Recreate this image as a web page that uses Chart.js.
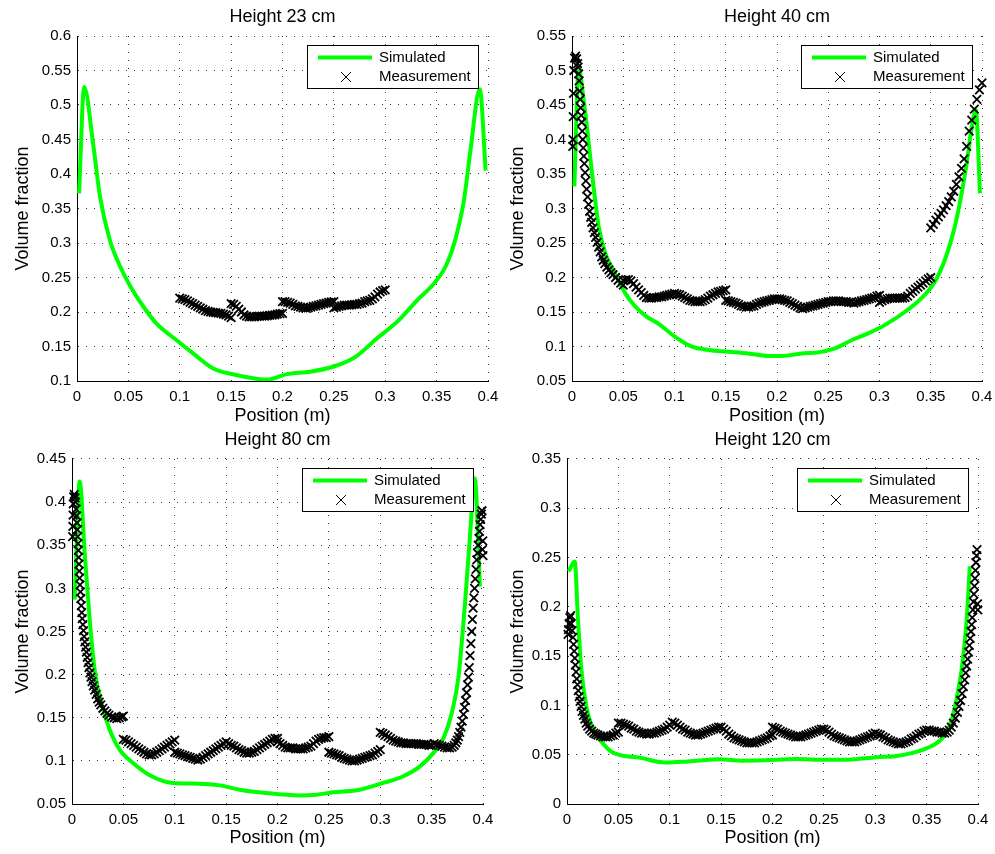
<!DOCTYPE html>
<html>
<head>
<meta charset="utf-8">
<script src="https://cdn.jsdelivr.net/npm/chart.js@4.4.1/dist/chart.umd.min.js"></script>
<style>
  body { margin: 0; background: #fff; width: 995px; height: 854px; position: relative; overflow: hidden; }
  canvas { position: absolute; }
</style>
</head>
<body>
<canvas id="c23" width="500" height="428" style="left:0;top:0"></canvas>
<canvas id="c40" width="500" height="428" style="left:495px;top:0"></canvas>
<canvas id="c80" width="500" height="426" style="left:0;top:428px"></canvas>
<canvas id="c120" width="500" height="426" style="left:495px;top:428px"></canvas>
<script>
"use strict";

const titles = ["Height 23 cm", "Height 40 cm", "Height 80 cm", "Height 120 cm"];
const seriesNames = ["Simulated", "Measurement"];
const xTicks = [0, 0.05, 0.1, 0.15, 0.2, 0.25, 0.3, 0.35, 0.4];
const yMins = [0.1, 0.05, 0.05, 0];
const yMaxs = [0.6, 0.55, 0.45, 0.35];

// simulated profiles [position, volume fraction]
const sim23 = [[0.002,0.372],[0.007,0.526],[0.016,0.44],[0.0224,0.367],[0.032,0.304],[0.042,0.266],[0.052,0.237],[0.0645,0.208],[0.0775,0.183],[0.097,0.159],[0.113,0.140],[0.1327,0.118],[0.155,0.1087],[0.178,0.1025],[0.185,0.102],[0.2045,0.110],[0.227,0.1135],[0.25,0.121],[0.271,0.135],[0.292,0.162],[0.3117,0.186],[0.331,0.217],[0.349,0.244],[0.360,0.270],[0.368,0.304],[0.3766,0.362],[0.383,0.435],[0.392,0.523],[0.3977,0.405]];
const sim40 = [[0.0023,0.332],[0.0065,0.503],[0.0114,0.457],[0.016,0.399],[0.021,0.332],[0.026,0.274],[0.0325,0.235],[0.042,0.206],[0.052,0.177],[0.0617,0.158],[0.073,0.143],[0.0844,0.133],[0.1006,0.114],[0.117,0.0997],[0.133,0.095],[0.1526,0.0925],[0.172,0.090],[0.1916,0.0862],[0.2045,0.0862],[0.224,0.090],[0.240,0.0915],[0.2565,0.0973],[0.2727,0.109],[0.289,0.119],[0.305,0.131],[0.3247,0.150],[0.341,0.170],[0.354,0.194],[0.3636,0.225],[0.3718,0.264],[0.378,0.305],[0.3847,0.362],[0.390,0.418],[0.394,0.443],[0.398,0.322]];
const sim80 = [[0.0026,0.287],[0.0075,0.424],[0.0123,0.341],[0.0172,0.264],[0.022,0.206],[0.0286,0.167],[0.0367,0.136],[0.0464,0.113],[0.0594,0.0975],[0.0756,0.0834],[0.0984,0.0744],[0.124,0.0736],[0.1438,0.0716],[0.1633,0.0666],[0.189,0.0627],[0.2218,0.060],[0.238,0.0608],[0.254,0.0635],[0.280,0.0666],[0.303,0.0744],[0.3224,0.0822],[0.3386,0.0936],[0.3516,0.109],[0.3614,0.126],[0.3695,0.155],[0.376,0.196],[0.3825,0.283],[0.3873,0.36],[0.392,0.4276],[0.397,0.302]];
const sim120 = [[0.0016,0.236],[0.0075,0.246],[0.0107,0.187],[0.014,0.136],[0.0188,0.099],[0.0237,0.080],[0.030,0.068],[0.0353,0.061],[0.042,0.054],[0.050,0.050],[0.0743,0.0463],[0.0854,0.0435],[0.097,0.042],[0.118,0.0432],[0.149,0.0453],[0.170,0.044],[0.2008,0.0446],[0.2218,0.0456],[0.2527,0.0448],[0.2737,0.045],[0.3014,0.0475],[0.319,0.0485],[0.334,0.0514],[0.35,0.0565],[0.3662,0.068],[0.3744,0.0852],[0.3808,0.1157],[0.384,0.136],[0.389,0.187],[0.392,0.241]];

// measurements [position, volume fraction]
const meas23 = [[0.100,0.220],[0.1025,0.219],[0.105,0.218],[0.1075,0.216],[0.110,0.214],[0.1125,0.212],[0.115,0.210],[0.1175,0.208],[0.120,0.206],[0.1225,0.204],[0.125,0.202],[0.1275,0.201],[0.130,0.200],[0.1325,0.1995],[0.135,0.199],[0.1375,0.1985],[0.140,0.198],[0.1425,0.197],[0.145,0.196],[0.1475,0.194],[0.150,0.192],
  [0.150,0.212],[0.1525,0.211],[0.155,0.208],[0.1575,0.204],[0.160,0.200],[0.1625,0.196],[0.165,0.194],[0.1675,0.193],[0.170,0.193],[0.1725,0.193],[0.175,0.1935],[0.1775,0.194],[0.180,0.194],[0.1825,0.194],[0.185,0.1945],[0.1875,0.195],[0.190,0.1955],[0.1925,0.196],[0.195,0.197],[0.1975,0.1975],[0.200,0.198],
  [0.200,0.215],[0.2025,0.215],[0.205,0.214],[0.2075,0.213],[0.210,0.211],[0.2125,0.209],[0.215,0.208],[0.2175,0.207],[0.220,0.206],[0.2225,0.2055],[0.225,0.206],[0.2275,0.207],[0.230,0.208],[0.2325,0.209],[0.235,0.210],[0.2375,0.211],[0.240,0.212],[0.2425,0.213],[0.245,0.214],[0.2475,0.2145],[0.250,0.215],
  [0.250,0.206],[0.2525,0.207],[0.255,0.208],[0.2575,0.209],[0.260,0.210],[0.2625,0.210],[0.265,0.210],[0.2675,0.2105],[0.270,0.211],[0.2725,0.211],[0.275,0.212],[0.2775,0.213],[0.280,0.215],[0.2825,0.216],[0.285,0.217],[0.2875,0.219],[0.290,0.222],[0.2925,0.226],[0.295,0.229],[0.2975,0.231],[0.300,0.232]];

const meas40 = [[0.0008,0.390],[0.0010,0.400],[0.0012,0.433],[0.0014,0.467],[0.0018,0.500],[0.0025,0.518],[0.0035,0.521],[0.0045,0.517],[0.0055,0.510],
  [0.0060,0.505],[0.0065,0.495],[0.0070,0.485],[0.0075,0.470],[0.0080,0.458],[0.0085,0.446],[0.0090,0.435],[0.0095,0.425],[0.0100,0.412],[0.0105,0.400],[0.0110,0.388],[0.0115,0.376],[0.0120,0.365],[0.0128,0.352],[0.0135,0.340],[0.0143,0.328],[0.0152,0.317],[0.0162,0.306],[0.0172,0.296],[0.0182,0.287],[0.0192,0.280],[0.0205,0.272],[0.0218,0.265],[0.0230,0.258],[0.0245,0.251],[0.0260,0.244],[0.0275,0.237],[0.0290,0.230],[0.0305,0.225],[0.0320,0.220],[0.0340,0.215],[0.0360,0.211],[0.0380,0.207],[0.0400,0.204],[0.0425,0.200],[0.0450,0.196],[0.0475,0.192],[0.0500,0.189],
  [0.050,0.196],[0.0525,0.197],[0.055,0.197],[0.0575,0.195],[0.060,0.191],[0.0625,0.186],[0.065,0.182],[0.0675,0.178],[0.070,0.174],[0.0725,0.171],[0.075,0.170],[0.0775,0.170],[0.080,0.171],[0.0825,0.171],[0.085,0.172],[0.0875,0.172],[0.090,0.173],[0.0925,0.174],[0.095,0.175],[0.0975,0.176],[0.100,0.177],
  [0.1025,0.176],[0.105,0.175],[0.1075,0.173],[0.110,0.171],[0.1125,0.169],[0.115,0.167],[0.1175,0.166],[0.120,0.165],[0.1225,0.165],[0.125,0.165],[0.1275,0.166],[0.130,0.168],[0.1325,0.170],[0.135,0.173],[0.1375,0.175],[0.140,0.177],[0.1425,0.179],[0.145,0.180],[0.1475,0.181],[0.150,0.182],
  [0.150,0.167],[0.1525,0.166],[0.155,0.165],[0.1575,0.164],[0.160,0.163],[0.1625,0.161],[0.165,0.159],[0.1675,0.158],[0.170,0.157],[0.1725,0.157],[0.175,0.158],[0.1775,0.159],[0.180,0.161],[0.1825,0.163],[0.185,0.164],[0.1875,0.165],[0.190,0.166],[0.1925,0.167],[0.195,0.168],[0.1975,0.169],[0.200,0.169],
  [0.2025,0.169],[0.205,0.168],[0.2075,0.167],[0.210,0.166],[0.2125,0.164],[0.215,0.162],[0.2175,0.160],[0.220,0.158],[0.2225,0.156],[0.225,0.155],[0.2275,0.156],[0.230,0.157],[0.2325,0.158],[0.235,0.159],[0.2375,0.160],[0.240,0.161],[0.2425,0.162],[0.245,0.163],[0.2475,0.164],[0.250,0.165],
  [0.2525,0.165],[0.255,0.166],[0.2575,0.166],[0.260,0.166],[0.2625,0.165],[0.265,0.165],[0.2675,0.165],[0.270,0.164],[0.2725,0.164],[0.275,0.163],[0.2775,0.164],[0.280,0.165],[0.2825,0.166],[0.285,0.167],[0.2875,0.168],[0.290,0.169],[0.2925,0.170],[0.295,0.171],[0.2975,0.173],[0.300,0.174],
  [0.300,0.164],[0.3025,0.166],[0.305,0.168],[0.3075,0.169],[0.310,0.170],[0.3125,0.170],[0.315,0.170],[0.3175,0.170],[0.320,0.170],[0.3225,0.170],[0.325,0.171],[0.3275,0.173],[0.330,0.177],[0.3325,0.180],[0.335,0.183],[0.3375,0.186],[0.340,0.189],[0.3425,0.192],[0.345,0.195],[0.3475,0.198],[0.350,0.200],
  [0.350,0.272],[0.3525,0.277],[0.355,0.283],[0.3575,0.288],[0.360,0.293],[0.3625,0.298],[0.365,0.304],[0.3675,0.310],[0.370,0.317],[0.3725,0.325],[0.375,0.335],[0.3775,0.346],[0.380,0.358],[0.3825,0.372],[0.385,0.390],[0.3875,0.412],[0.390,0.428],[0.3925,0.444],[0.395,0.458],[0.3975,0.472],[0.400,0.482]];

const meas80 = [[0.0006,0.360],[0.0008,0.372],[0.0010,0.385],[0.0012,0.398],[0.0016,0.406],[0.0022,0.409],[0.0030,0.405],
  [0.0035,0.400],[0.0040,0.392],[0.0045,0.384],[0.0050,0.376],[0.0053,0.368],[0.0056,0.360],[0.0059,0.352],[0.0062,0.344],[0.0065,0.336],[0.0068,0.328],[0.0071,0.320],[0.0074,0.312],[0.0078,0.304],[0.0082,0.296],[0.0086,0.288],[0.0090,0.280],[0.0095,0.272],[0.0100,0.265],[0.0106,0.258],[0.0112,0.251],[0.0118,0.244],[0.0125,0.238],[0.0132,0.232],[0.0140,0.226],[0.0148,0.220],[0.0156,0.214],[0.0165,0.208],[0.0175,0.202],[0.0185,0.197],[0.0195,0.192],[0.0207,0.187],[0.0220,0.182],[0.0235,0.177],[0.0250,0.172],[0.0265,0.168],[0.0280,0.165],[0.0300,0.161],[0.0320,0.158],[0.0340,0.155],[0.0360,0.153],[0.0385,0.151],[0.0410,0.150],[0.0435,0.149],[0.0460,0.150],[0.0485,0.151],[0.0500,0.152],
  [0.0500,0.125],[0.0525,0.124],[0.055,0.122],[0.0575,0.120],[0.060,0.118],[0.0625,0.116],[0.065,0.114],[0.0675,0.112],[0.070,0.110],[0.0725,0.108],[0.075,0.107],[0.0775,0.107],[0.080,0.108],[0.0825,0.110],[0.085,0.112],[0.0875,0.114],[0.090,0.116],[0.0925,0.118],[0.095,0.120],[0.0975,0.122],[0.100,0.124],
  [0.100,0.110],[0.1025,0.109],[0.105,0.108],[0.1075,0.107],[0.110,0.106],[0.1125,0.105],[0.115,0.104],[0.1175,0.103],[0.120,0.102],[0.1225,0.101],[0.125,0.102],[0.1275,0.104],[0.130,0.106],[0.1325,0.108],[0.135,0.110],[0.1375,0.112],[0.140,0.114],[0.1425,0.116],[0.145,0.118],[0.1475,0.120],[0.150,0.122],
  [0.1525,0.120],[0.155,0.118],[0.1575,0.117],[0.160,0.115],[0.1625,0.113],[0.165,0.112],[0.1675,0.110],[0.170,0.109],[0.1725,0.109],[0.175,0.110],[0.1775,0.111],[0.180,0.113],[0.1825,0.115],[0.185,0.117],[0.1875,0.119],[0.190,0.121],[0.1925,0.123],[0.195,0.125],[0.1975,0.126],[0.200,0.126],
  [0.200,0.122],[0.2025,0.120],[0.205,0.118],[0.2075,0.116],[0.210,0.115],[0.2125,0.115],[0.215,0.115],[0.2175,0.114],[0.220,0.114],[0.2225,0.114],[0.225,0.114],[0.2275,0.115],[0.230,0.116],[0.2325,0.117],[0.235,0.120],[0.2375,0.123],[0.240,0.125],[0.2425,0.126],[0.245,0.127],[0.2475,0.127],[0.250,0.128],
  [0.250,0.110],[0.2525,0.109],[0.255,0.108],[0.2575,0.107],[0.260,0.106],[0.2625,0.104],[0.265,0.103],[0.2675,0.102],[0.270,0.101],[0.2725,0.100],[0.275,0.100],[0.2775,0.101],[0.280,0.102],[0.2825,0.103],[0.285,0.104],[0.2875,0.105],[0.290,0.106],[0.2925,0.107],[0.295,0.109],[0.2975,0.111],[0.300,0.113],
  [0.300,0.133],[0.3025,0.132],[0.305,0.130],[0.3075,0.128],[0.310,0.126],[0.3125,0.124],[0.315,0.123],[0.3175,0.122],[0.320,0.121],[0.3225,0.121],[0.325,0.120],[0.3275,0.120],[0.330,0.120],[0.3325,0.120],[0.335,0.120],[0.3375,0.119],[0.340,0.119],[0.3425,0.119],[0.345,0.119],[0.3475,0.118],[0.350,0.118],
  [0.3525,0.120],[0.355,0.119],[0.3575,0.118],[0.360,0.117],[0.3625,0.116],[0.365,0.115],[0.3675,0.115],[0.370,0.116],[0.3720,0.118],[0.3735,0.121],[0.3750,0.124],[0.3762,0.128],[0.3774,0.133],[0.3786,0.139],[0.3798,0.146],[0.3810,0.154],[0.3820,0.162],[0.3830,0.170],[0.3840,0.179],[0.3850,0.188],[0.3858,0.197],[0.3866,0.208],[0.3874,0.222],[0.3882,0.236],[0.3890,0.250],[0.3897,0.264],[0.3904,0.277],[0.3911,0.289],[0.3918,0.300],[0.3925,0.311],[0.3932,0.322],[0.3939,0.333],[0.3946,0.341],[0.3953,0.350],[0.3960,0.358],[0.3966,0.366],[0.3972,0.374],[0.3978,0.380],[0.3984,0.386],[0.3990,0.390],[0.3995,0.345],[0.3998,0.355],[0.4000,0.338]];

const meas120 = [[0.0010,0.172],[0.0014,0.177],[0.0020,0.183],[0.0028,0.189],[0.0035,0.191],[0.0042,0.183],
  [0.0050,0.176],[0.0058,0.169],[0.0064,0.162],[0.0070,0.155],[0.0076,0.148],[0.0082,0.141],[0.0088,0.134],[0.0095,0.127],[0.0102,0.121],[0.0110,0.115],[0.0118,0.109],[0.0127,0.104],[0.0137,0.099],[0.0148,0.094],[0.0160,0.090],[0.0173,0.086],[0.0187,0.082],[0.0202,0.079],[0.0220,0.076],[0.0240,0.074],[0.0260,0.072],[0.0280,0.071],[0.0300,0.070],[0.0325,0.069],[0.0350,0.068],[0.0375,0.068],[0.0400,0.068],[0.0425,0.069],[0.0450,0.070],[0.0475,0.072],[0.0500,0.073],
  [0.050,0.082],[0.0525,0.082],[0.055,0.081],[0.0575,0.080],[0.060,0.079],[0.0625,0.077],[0.065,0.076],[0.0675,0.074],[0.070,0.073],[0.0725,0.072],[0.075,0.072],[0.0775,0.071],[0.080,0.071],[0.0825,0.072],[0.085,0.072],[0.0875,0.073],[0.090,0.074],[0.0925,0.075],[0.095,0.076],[0.0975,0.078],[0.100,0.080],[0.1025,0.083],
  [0.105,0.082],[0.1075,0.080],[0.110,0.078],[0.1125,0.076],[0.115,0.075],[0.1175,0.073],[0.120,0.072],[0.1225,0.071],[0.125,0.070],[0.1275,0.070],[0.130,0.071],[0.1325,0.072],[0.135,0.073],[0.1375,0.074],[0.140,0.075],[0.1425,0.076],[0.145,0.077],[0.1475,0.078],[0.150,0.078],
  [0.1525,0.076],[0.155,0.074],[0.1575,0.071],[0.160,0.069],[0.1625,0.067],[0.165,0.066],[0.1675,0.065],[0.170,0.064],[0.1725,0.063],[0.175,0.062],[0.1775,0.062],[0.180,0.062],[0.1825,0.062],[0.185,0.063],[0.1875,0.064],[0.190,0.065],[0.1925,0.066],[0.195,0.067],[0.1975,0.069],[0.200,0.070],
  [0.200,0.078],[0.2025,0.077],[0.205,0.076],[0.2075,0.074],[0.210,0.073],[0.2125,0.072],[0.215,0.071],[0.2175,0.070],[0.220,0.069],[0.2225,0.068],[0.225,0.068],[0.2275,0.068],[0.230,0.069],[0.2325,0.070],[0.235,0.071],[0.2375,0.072],[0.240,0.073],[0.2425,0.074],[0.245,0.075],[0.2475,0.076],[0.250,0.076],
  [0.2525,0.075],[0.255,0.073],[0.2575,0.071],[0.260,0.069],[0.2625,0.068],[0.265,0.067],[0.2675,0.066],[0.270,0.065],[0.2725,0.064],[0.275,0.063],[0.2775,0.063],[0.280,0.063],[0.2825,0.064],[0.285,0.065],[0.2875,0.066],[0.290,0.067],[0.2925,0.068],[0.295,0.069],[0.2975,0.071],[0.300,0.072],
  [0.3025,0.071],[0.305,0.070],[0.3075,0.068],[0.310,0.067],[0.3125,0.065],[0.315,0.064],[0.3175,0.063],[0.320,0.062],[0.3225,0.061],[0.325,0.061],[0.3275,0.062],[0.330,0.063],[0.3325,0.064],[0.335,0.066],[0.3375,0.067],[0.340,0.069],[0.3425,0.071],[0.345,0.072],[0.3475,0.074],[0.350,0.075],
  [0.3525,0.075],[0.355,0.074],[0.3575,0.074],[0.360,0.073],[0.3625,0.073],[0.365,0.072],[0.3675,0.072],[0.370,0.073],[0.3720,0.075],[0.3740,0.078],[0.3760,0.082],[0.3780,0.087],[0.3800,0.093],[0.3815,0.099],[0.3830,0.105],[0.3845,0.112],[0.3858,0.119],[0.3870,0.126],[0.3880,0.133],[0.3890,0.140],[0.3900,0.147],[0.3908,0.154],[0.3916,0.161],[0.3924,0.168],[0.3931,0.175],[0.3938,0.182],[0.3944,0.189],[0.3950,0.197],[0.3955,0.205],[0.3960,0.213],[0.3965,0.221],[0.3970,0.229],[0.3975,0.237],[0.3980,0.245],[0.3985,0.252],[0.3990,0.258],[0.3995,0.203],[0.3998,0.197]];

const simSets = [sim23, sim40, sim80, sim120];
const measSets = [meas23, meas40, meas80, meas120];

Chart.defaults.font.family = '"Liberation Sans", Arial, sans-serif';
Chart.defaults.color = "#000";

const fmt = (v) => String(Math.round(v * 100) / 100);

// MATLAB style legend box in the top right corner of the plot
const boxLegend = {
  id: "boxLegend",
  afterDatasetsDraw(chart) {
    const { ctx, chartArea } = chart;
    const [simSet, measSet] = chart.data.datasets;
    ctx.save();
    ctx.font = '15px "Liberation Sans", Arial, sans-serif';
    const textW = Math.max(ctx.measureText(simSet.label).width, ctx.measureText(measSet.label).width);
    const w = Math.round(72 + textW + 7), h = 43;
    const x = Math.round(chartArea.right - 10 - w), y = Math.round(chartArea.top + 9);
    ctx.fillStyle = "#fff";
    ctx.fillRect(x, y, w, h);
    ctx.strokeStyle = "#000";
    ctx.lineWidth = 1;
    ctx.strokeRect(x + 0.5, y + 0.5, w, h);
    ctx.strokeStyle = simSet.borderColor;
    ctx.lineWidth = simSet.borderWidth;
    ctx.beginPath();
    ctx.moveTo(x + 11, y + 12.5);
    ctx.lineTo(x + 65, y + 12.5);
    ctx.stroke();
    ctx.strokeStyle = "#000";
    ctx.lineWidth = 1;
    Chart.helpers.drawPoint(ctx, { pointStyle: "crossRot", radius: 7, borderWidth: 1 }, x + 39, y + 32);
    ctx.fillStyle = "#000";
    ctx.textBaseline = "middle";
    ctx.fillText(simSet.label, x + 72, y + 13);
    ctx.fillText(measSet.label, x + 72, y + 32);
    ctx.restore();
  },
};

function makeChart(id, i, yWidth, padRight, topRow) {
  const toXY = (p) => ({ x: p[0], y: p[1] });
  new Chart(document.getElementById(id), {
    type: "scatter",
    data: {
      datasets: [
        {
          label: seriesNames[0],
          data: simSets[i].map(toXY),
          showLine: true,
          borderColor: "#00ff00",
          borderWidth: 4,
          pointRadius: 0,
          cubicInterpolationMode: "monotone",
          order: 1,
        },
        {
          label: seriesNames[1],
          data: measSets[i].map(toXY),
          showLine: false,
          pointStyle: "crossRot",
          pointRadius: 6,
          borderColor: "#000",
          backgroundColor: "#000",
          pointBorderWidth: 1.8,
          clip: false,
          order: 0,
        },
      ],
    },
    options: {
      responsive: false,
      animation: false,
      events: [],
      layout: { padding: { left: 0, right: padRight, top: 0, bottom: 0 } },
      plugins: {
        legend: { display: false },
        tooltip: { enabled: false },
        title: {
          display: true,
          text: titles[i],
          fullSize: false,
          font: { size: 18, weight: "normal" },
          color: "#000",
          padding: topRow ? { top: 6.2, bottom: 8.2 } : { top: 1.2, bottom: 8.2 },
        },
      },
      scales: {
        x: {
          type: "linear",
          min: 0,
          max: 0.4,
          afterBuildTicks: (scale) => { scale.ticks = xTicks.map((v) => ({ value: v })); },
          afterFit: (scale) => {
            scale.height = topRow ? 47 : 50;
            scale.paddingLeft = 0;
            scale.paddingRight = 0;
          },
          ticks: { font: { size: 15 }, padding: 7, maxRotation: 0, callback: fmt },
          grid: { color: "#333", lineWidth: 1, drawTicks: false },
          border: { display: true, color: "#000", width: 1, dash: [1, 7] },
          title: {
            display: true,
            text: "Position (m)",
            font: { size: 18 },
            padding: { top: 0, bottom: topRow ? 0.7 : 5.2 },
          },
        },
        y: {
          type: "linear",
          min: yMins[i],
          max: yMaxs[i],
          ticks: { stepSize: 0.05, font: { size: 15 }, padding: 6, callback: fmt },
          afterFit: (scale) => {
            scale.width = yWidth;
            scale.paddingTop = 0;
            scale.paddingBottom = 0;
          },
          grid: { color: "#333", lineWidth: 1, drawTicks: false },
          border: { display: true, color: "#000", width: 1, dash: [1, 7] },
          title: {
            display: true,
            text: "Volume fraction",
            font: { size: 18 },
            padding: { top: 12, bottom: 0 },
          },
        },
      },
    },
    plugins: [boxLegend],
  });
}

makeChart("c23", 0, 77, 12, true);
makeChart("c40", 1, 77, 13, true);
makeChart("c80", 2, 72, 17, false);
makeChart("c120", 3, 72, 17, false);
</script>
</body>
</html>
